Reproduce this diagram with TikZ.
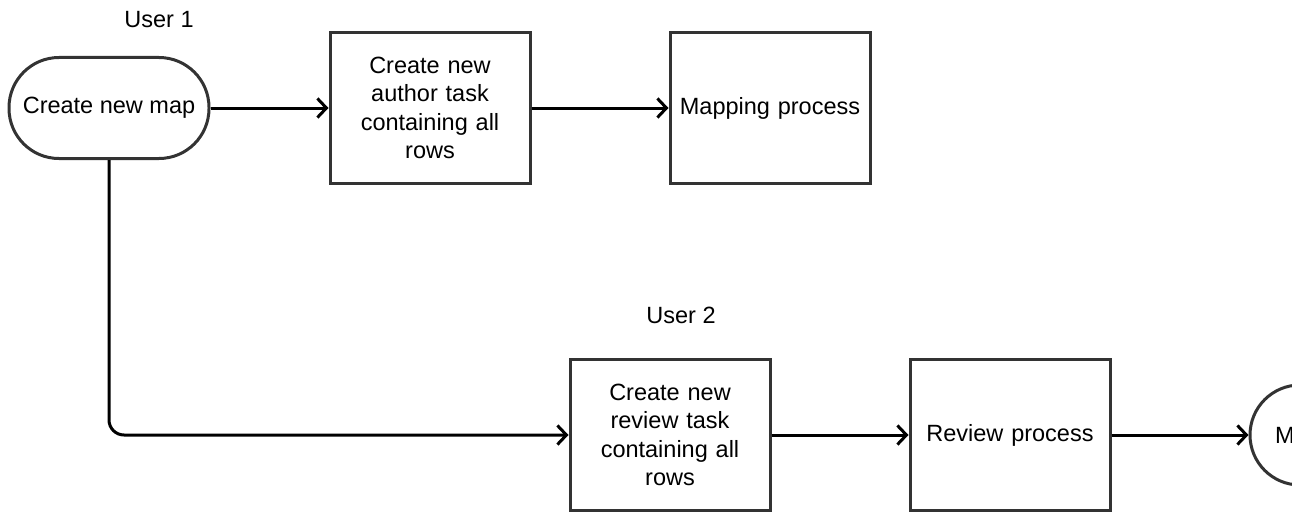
\documentclass[tikz,border=0pt]{standalone}
\usepackage{fontspec}
\setmainfont{Liberation Sans}
\usetikzlibrary{positioning, arrows.meta}

\tikzset{
    task/.style={draw=black!80, line width=3pt, minimum width=200pt, minimum height=151pt,
        text width=192pt, align=center, font=\fontsize{23.5}{28.5}\selectfont},
    terminal/.style={draw=black!80, line width=3pt, rounded corners=50pt, minimum width=200pt,
        minimum height=101pt, font=\fontsize{23.5}{28.5}\selectfont},
    endpoint/.style={draw=black!80, line width=3pt, circle, minimum size=100pt},
    lane/.style={font=\fontsize{23.5}{28.5}\selectfont},
    flow/.style={->, line width=3pt}
}

\begin{document}
\begin{tikzpicture}[x=1pt, y=-1pt, node distance=340pt, on grid,
        >={Straight Barb[length=9pt, width=19pt]}]
    \useasboundingbox (0,0) rectangle (1292,511);
    \clip (0,0) rectangle (1292,511);

    \node[lane] (user1) at (159,20) {User 1};
    \node[lane] (user2) at (681,315) {User 2};

    \node[terminal] (newmap) at (109,108) {Create new map};
    \node[task] (authortask) at (430,108) {Create new\\author task\\containing all\\rows};
    \node[task] (mapping) [right=of authortask] {Mapping process};
    \node[task] (reviewtask) at (670,435) {Create new\\review task\\containing all\\rows};
    \node[task] (review) [right=of reviewtask] {Review process};
    \node[endpoint] (merge) [right=290pt of review] {};
    \node[lane, anchor=west, inner sep=0pt] (mergetext) at (1275,435) {M};

    \draw[flow] (newmap) -- (authortask);
    \draw[flow] (authortask) -- (mapping);
    \draw[flow, rounded corners=15pt] (newmap.south) |- (reviewtask.west);
    \draw[flow] (reviewtask) -- (review);
    \draw[flow] (review) -- (merge);
\end{tikzpicture}
\end{document}
